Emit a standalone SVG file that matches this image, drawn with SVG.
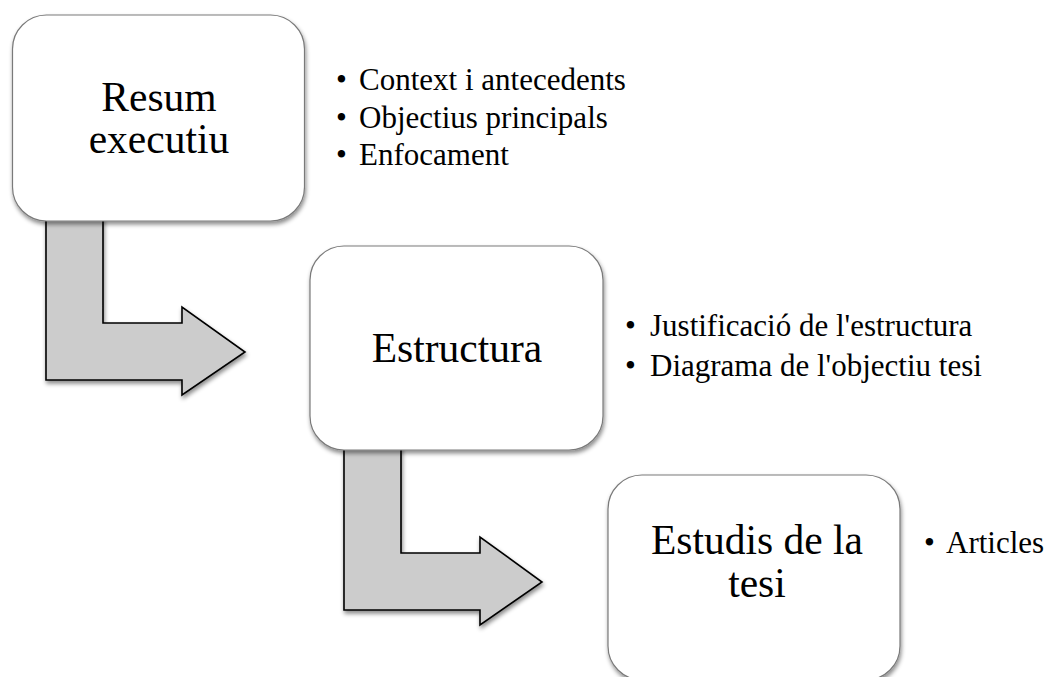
<svg xmlns="http://www.w3.org/2000/svg" width="1048" height="677" viewBox="0 0 1048 677">
  <defs>
    <filter id="sh" x="-10%" y="-10%" width="125%" height="130%">
      <feDropShadow dx="1" dy="3" stdDeviation="2.2" flood-color="#000" flood-opacity="0.45"/>
    </filter>
    <style>
      .box { fill: #ffffff; stroke: #7a7a7a; stroke-width: 1.2; filter: url(#sh); }
      .arrow { fill: #cccccc; stroke: #000000; stroke-width: 1.6; stroke-linejoin: miter; filter: url(#sh); }
      .title { font-family: "Liberation Serif", "Times New Roman", serif; font-size: 41.5px; fill: #000; text-anchor: middle; }
      .bullet { font-family: "Liberation Serif", "Times New Roman", serif; font-size: 31px; fill: #000; }
    </style>
  </defs>
  <rect width="1048" height="677" fill="#ffffff"/>

  <g id="connectors">
    <path class="arrow" d="M46,210 L103,210 L103,323 L182,323 L182,307 L245,352 L182,395 L182,380 L46,380 Z"/>
    <path class="arrow" d="M344,440 L401,440 L401,553 L480,553 L480,537 L542,582 L480,625 L480,610 L344,610 Z"/>
  </g>

  <g id="node-resum">
    <rect class="box" x="12.5" y="15" width="292" height="206" rx="34" ry="34"/>
    <text class="title"><tspan x="159" y="110.5">Resum</tspan><tspan x="159" y="153">executiu</tspan></text>
  </g>
  <g id="list-resum">
    <text class="bullet" y="90"><tspan x="336">•</tspan><tspan x="359">Context i antecedents</tspan></text>
    <text class="bullet" y="127.5"><tspan x="336">•</tspan><tspan x="359">Objectius principals</tspan></text>
    <text class="bullet" y="165"><tspan x="336">•</tspan><tspan x="359">Enfocament</tspan></text>
  </g>

  <g id="node-estructura">
    <rect class="box" x="310" y="246" width="293" height="204" rx="34" ry="34"/>
    <text class="title" x="457" y="362">Estructura</text>
  </g>
  <g id="list-estructura">
    <text class="bullet" y="336"><tspan x="625">•</tspan><tspan x="650">Justificació de l'estructura</tspan></text>
    <text class="bullet" y="376"><tspan x="625">•</tspan><tspan x="650">Diagrama de l'objectiu tesi</tspan></text>
  </g>

  <g id="node-estudis">
    <rect class="box" x="608" y="475" width="292" height="205" rx="34" ry="34"/>
    <text class="title"><tspan x="757" y="554">Estudis de la</tspan><tspan x="757" y="597">tesi</tspan></text>
  </g>
  <g id="list-estudis">
    <text class="bullet" y="553"><tspan x="924">•</tspan><tspan x="946">Articles</tspan></text>
  </g>
</svg>
